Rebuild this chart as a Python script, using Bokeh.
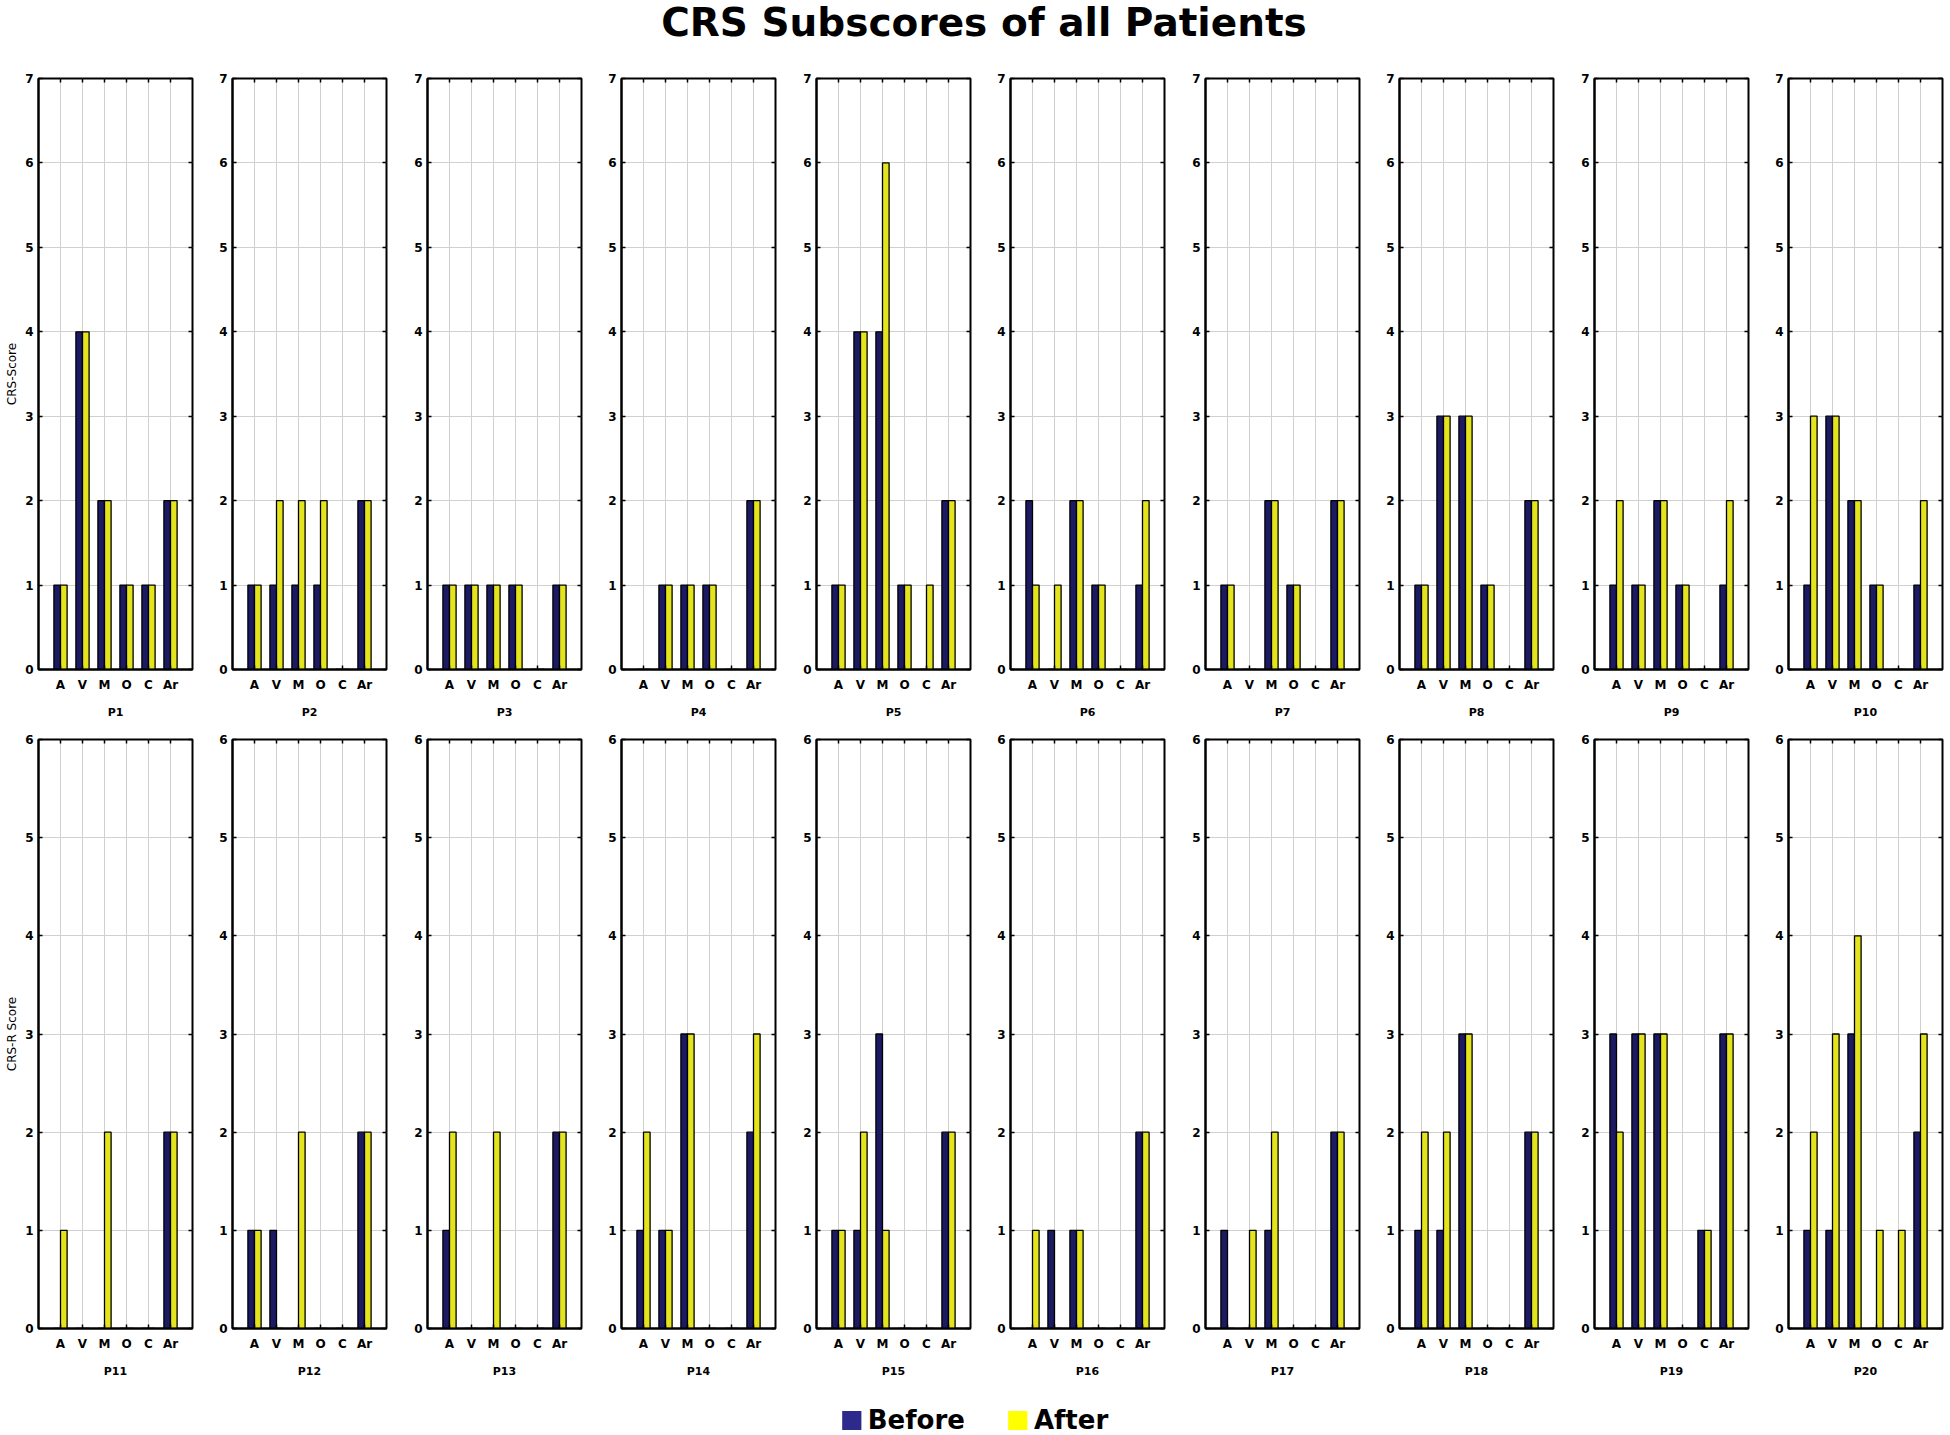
from bokeh.plotting import figure
from bokeh.models import (ColumnDataSource, FactorRange, Range1d, FixedTicker,
                          LinearAxis, CategoricalAxis, Legend, LegendItem)
from bokeh.transform import dodge
from bokeh.layouts import column, row
from bokeh.embed import file_html
from bokeh.resources import INLINE
from bokeh.core.properties import value

# ---------------- data ----------------
title_text = "CRS Subscores of all Patients"
categories = ["A", "V", "M", "O", "C", "Ar"]
patients = ["P1", "P2", "P3", "P4", "P5", "P6", "P7", "P8", "P9", "P10",
            "P11", "P12", "P13", "P14", "P15", "P16", "P17", "P18", "P19", "P20"]
series_names = ["Before", "After"]
y_label_row1 = "CRS-Score"
y_label_row2 = "CRS-R Score"
y_max_row1 = 7
y_max_row2 = 6

P1_before = [1, 4, 2, 1, 1, 2]
P1_after = [1, 4, 2, 1, 1, 2]
P2_before = [1, 1, 1, 1, 0, 2]
P2_after = [1, 2, 2, 2, 0, 2]
P3_before = [1, 1, 1, 1, 0, 1]
P3_after = [1, 1, 1, 1, 0, 1]
P4_before = [0, 1, 1, 1, 0, 2]
P4_after = [0, 1, 1, 1, 0, 2]
P5_before = [1, 4, 4, 1, 0, 2]
P5_after = [1, 4, 6, 1, 1, 2]
P6_before = [2, 0, 2, 1, 0, 1]
P6_after = [1, 1, 2, 1, 0, 2]
P7_before = [1, 0, 2, 1, 0, 2]
P7_after = [1, 0, 2, 1, 0, 2]
P8_before = [1, 3, 3, 1, 0, 2]
P8_after = [1, 3, 3, 1, 0, 2]
P9_before = [1, 1, 2, 1, 0, 1]
P9_after = [2, 1, 2, 1, 0, 2]
P10_before = [1, 3, 2, 1, 0, 1]
P10_after = [3, 3, 2, 1, 0, 2]
P11_before = [0, 0, 0, 0, 0, 2]
P11_after = [1, 0, 2, 0, 0, 2]
P12_before = [1, 1, 0, 0, 0, 2]
P12_after = [1, 0, 2, 0, 0, 2]
P13_before = [1, 0, 0, 0, 0, 2]
P13_after = [2, 0, 2, 0, 0, 2]
P14_before = [1, 1, 3, 0, 0, 2]
P14_after = [2, 1, 3, 0, 0, 3]
P15_before = [1, 1, 3, 0, 0, 2]
P15_after = [1, 2, 1, 0, 0, 2]
P16_before = [0, 1, 1, 0, 0, 2]
P16_after = [1, 0, 1, 0, 0, 2]
P17_before = [1, 0, 1, 0, 0, 2]
P17_after = [0, 1, 2, 0, 0, 2]
P18_before = [1, 1, 3, 0, 0, 2]
P18_after = [2, 2, 3, 0, 0, 2]
P19_before = [3, 3, 3, 0, 1, 3]
P19_after = [2, 3, 3, 0, 1, 3]
P20_before = [1, 1, 3, 0, 0, 2]
P20_after = [2, 3, 4, 1, 1, 3]

before_lists = [P1_before, P2_before, P3_before, P4_before, P5_before,
                P6_before, P7_before, P8_before, P9_before, P10_before,
                P11_before, P12_before, P13_before, P14_before, P15_before,
                P16_before, P17_before, P18_before, P19_before, P20_before]
after_lists = [P1_after, P2_after, P3_after, P4_after, P5_after,
               P6_after, P7_after, P8_after, P9_after, P10_after,
               P11_after, P12_after, P13_after, P14_after, P15_after,
               P16_after, P17_after, P18_after, P19_after, P20_after]

# ---------------- style ----------------
FONT = "DejaVu Sans"
BEFORE_COLOR = "#1b1a63"
AFTER_COLOR = "#e3e31e"
LEGEND_BEFORE = "#2e2a8c"
LEGEND_AFTER = "#ffff00"
GRID_COLOR = "#d0d0d0"
FRAME_W = 154


def border_left(col):
    return 38 if col == 0 else 30


def border_right(col):
    if col == 9:
        return 5
    return 10 if col % 2 == 0 else 11


def make_panel(idx, ymax, frame_h, border_top, border_bottom, ylabel):
    col = idx % 10
    src = ColumnDataSource(data=dict(cat=categories,
                                     before=before_lists[idx],
                                     after=after_lists[idx]))
    xr = FactorRange(factors=categories, range_padding=0.5,
                     range_padding_units="absolute")
    p = figure(x_range=xr, y_range=Range1d(0, ymax),
               frame_width=FRAME_W, frame_height=frame_h,
               min_border_left=border_left(col), min_border_right=border_right(col),
               min_border_top=border_top, min_border_bottom=border_bottom,
               toolbar_location=None, tools="", output_backend="svg")
    p.title.visible = False
    p.background_fill_color = "white"
    p.border_fill_color = "white"
    p.outline_line_color = "black"
    p.outline_line_width = 2

    p.vbar(x=dodge("cat", -0.15, range=xr), top="before", width=0.3, source=src,
           fill_color=BEFORE_COLOR, line_color="black", line_width=1.3)
    p.vbar(x=dodge("cat", 0.15, range=xr), top="after", width=0.3, source=src,
           fill_color=AFTER_COLOR, line_color="black", line_width=1.3)

    ticks = list(range(ymax + 1))
    p.yaxis.ticker = FixedTicker(ticks=ticks)
    p.ygrid.ticker = FixedTicker(ticks=ticks)
    p.grid.grid_line_color = GRID_COLOR
    p.grid.grid_line_width = 1

    for ax in (p.xaxis[0], p.yaxis[0]):
        ax.major_tick_in = 4
        ax.major_tick_out = 0
        ax.minor_tick_line_color = None
        ax.major_tick_line_color = "black"
        ax.major_tick_line_width = 1.5
        ax.axis_line_color = "black"
        ax.axis_line_width = 2
        ax.major_label_text_font = FONT
        ax.major_label_text_font_size = "12px"
        ax.major_label_text_font_style = "bold"
        ax.major_label_text_color = "black"
    p.yaxis.major_label_standoff = 5
    p.xaxis.major_label_standoff = 8
    p.xaxis.axis_label = patients[idx]
    p.xaxis.axis_label_standoff = 11
    p.xaxis.axis_label_text_font = FONT
    p.xaxis.axis_label_text_font_size = "11px"
    p.xaxis.axis_label_text_font_style = "bold"
    p.xaxis.axis_label_text_color = "black"
    if col == 0:
        p.yaxis.axis_label = ylabel
        p.yaxis.axis_label_standoff = 3
        p.yaxis.axis_label_text_font = FONT
        p.yaxis.axis_label_text_font_size = "12px"
        p.yaxis.axis_label_text_font_style = "normal"
        p.yaxis.axis_label_text_color = "black"

    right = LinearAxis(ticker=FixedTicker(ticks=ticks), major_label_text_color=None,
                       major_label_text_font_size="4px", major_label_standoff=0,
                       major_tick_in=4, major_tick_out=0, major_tick_line_width=1.5,
                       axis_line_color=None, minor_tick_line_color=None)
    p.add_layout(right, "right")
    top = CategoricalAxis(major_label_text_color=None, major_label_text_font_size="4px",
                          major_label_standoff=0, major_tick_in=4, major_tick_out=0,
                          major_tick_line_width=1.5, axis_line_color=None)
    p.add_layout(top, "above")
    return p


top_figs = [make_panel(i, y_max_row1, 591, 14, 55, y_label_row1) for i in range(10)]
bot_figs = [make_panel(i, y_max_row2, 589, 15, 52, y_label_row2) for i in range(10, 20)]

TOTAL_W = sum(border_left(c) + FRAME_W + border_right(c) for c in range(10))

# title
TITLE_H = 64
tp = figure(width=TOTAL_W, height=TITLE_H, x_range=Range1d(0, TOTAL_W),
            y_range=Range1d(0, TITLE_H),
            x_axis_type=None, y_axis_type=None, min_border=0,
            toolbar_location=None, tools="", output_backend="svg")
tp.title.visible = False
tp.outline_line_color = None
tp.text(x=[TOTAL_W / 2 + 10], y=[TITLE_H - 22], text=[title_text], text_align="center",
        text_baseline="alphabetic", text_font=value(FONT), text_font_style="bold",
        text_font_size="39px", text_color="black")

# legend
nan = float("nan")
lp = figure(width=TOTAL_W, height=55, x_range=Range1d(0, 1), y_range=Range1d(0, 1),
            x_axis_type=None, y_axis_type=None, min_border=0,
            toolbar_location=None, tools="", output_backend="svg")
lp.title.visible = False
lp.outline_line_color = None
r_before = lp.quad(left=[nan], right=[nan], top=[nan], bottom=[nan],
                   fill_color=LEGEND_BEFORE, line_color=None)
r_after = lp.quad(left=[nan], right=[nan], top=[nan], bottom=[nan],
                  fill_color=LEGEND_AFTER, line_color=None)
legend = Legend(items=[LegendItem(label=series_names[0], renderers=[r_before]),
                       LegendItem(label=series_names[1], renderers=[r_after])],
                orientation="horizontal", location="bottom_center",
                label_text_font=FONT, label_text_font_style="bold",
                label_text_font_size="26px", label_text_color="black",
                glyph_width=24, glyph_height=24, spacing=40, label_standoff=5,
                padding=0, margin=0, border_line_color=None, background_fill_alpha=0)
lp.add_layout(legend, "center")

layout = column(tp, row(*top_figs), row(*bot_figs), lp)

open("out.html", "w").write(file_html(layout, INLINE))
